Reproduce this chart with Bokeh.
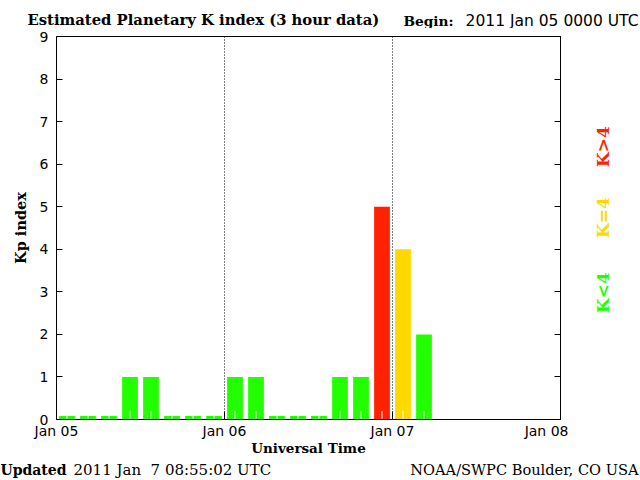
import math
import pandas as pd
from bokeh.plotting import figure
from bokeh.layouts import column, row
from bokeh.models import (Range1d, FixedTicker, LinearAxis, Span,
                          DatetimeTickFormatter, ColumnDataSource)
from bokeh.core.properties import value
from bokeh.embed import file_html
from bokeh.resources import INLINE

# ---------------- data ----------------
start_time = "2011-01-05 00:00"
interval_hours = 3
kp_values = [0, 0, 0, 1, 1, 0, 0, 0,
             1, 1, 0, 0, 0, 1, 1, 5,
             4, 2]
day_ticks = ["2011-01-05", "2011-01-06", "2011-01-07", "2011-01-08"]
y_ticks = [0, 1, 2, 3, 4, 5, 6, 7, 8, 9]
title_text = "Estimated Planetary K index (3 hour data)"
begin_label = "Begin:"
begin_value = "2011 Jan 05 0000 UTC"
updated_label = "Updated"
updated_value = "2011 Jan  7 08:55:02 UTC"
credit_text = "NOAA/SWPC Boulder, CO USA"
x_title = "Universal Time"
y_title = "Kp index"
legend_texts = ["K<4", "K=4", "K>4"]

GREEN, YELLOW, RED = "#22ff00", "#ffd800", "#ff2200"
SERIF = "DejaVu Serif"
SANS = "DejaVu Sans"

# ---------------- layout (canvas pixels) ----------------
W, H = 640, 480
TOP_H = 28                      # title strip height
FL, FR, FT, FB = 56, 560, 36, 419
MAIN_W = 568
PAD_TOP = FT - TOP_H
PAD_BOT = 41
MAIN_H = PAD_TOP + (FB - FT) + PAD_BOT
BOT_H = H - TOP_H - MAIN_H
LEG_W = W - MAIN_W


def text_fig(w, h, y0, y1, **kw):
    f = figure(width=w, height=h, output_backend="svg", toolbar_location=None,
               x_range=Range1d(0, w), y_range=Range1d(y1, y0),
               x_axis_location=None, y_axis_location=None, **kw)
    f.xgrid.visible = False
    f.ygrid.visible = False
    f.outline_line_color = None
    f.background_fill_color = "white"
    f.border_fill_color = "white"
    return f


def put(f, text, x, y, size, font=SERIF, bold=True, color="black",
        align="left", angle=0.0):
    f.text(x=[x], y=[y], text=[text.replace("  ", " \u00a0")],
           text_font=value(font),
           text_font_size=size, text_font_style="bold" if bold else "normal",
           text_color=color, text_align=align, text_baseline="middle",
           angle=angle)


def ms(ts):
    return pd.Timestamp(ts).value / 1e6


# ---------------- main chart ----------------
t0 = pd.Timestamp(start_time)
step = pd.Timedelta(hours=interval_hours)
starts = [t0 + i * step for i in range(len(kp_values))]
centers = [ms(s + step / 2) for s in starts]
bar_w = 2.25 * 3600 * 1000
tops = [v if v > 0 else 0.08 for v in kp_values]
colors = [GREEN if v < 4 else (YELLOW if v == 4 else RED) for v in kp_values]

src = ColumnDataSource(dict(x=centers, top=tops, color=colors,
                            y0=[0] * len(kp_values), y1=[0.2] * len(kp_values)))

p = figure(width=MAIN_W, height=MAIN_H, output_backend="svg",
           toolbar_location=None, x_axis_type="datetime",
           x_range=Range1d(ms(day_ticks[0]), ms(day_ticks[-1])),
           y_range=Range1d(0, 9),
           min_border_left=FL, min_border_right=MAIN_W - FR,
           min_border_top=PAD_TOP, min_border_bottom=PAD_BOT)
p.background_fill_color = "white"
p.border_fill_color = "white"
p.outline_line_color = "black"
p.outline_line_width = 1
p.outline_line_alpha = 1
p.xgrid.visible = False
p.ygrid.visible = False

p.vbar(x="x", width=bar_w, top="top", bottom=0, fill_color="color",
       line_color=None, source=src)
p.segment(x0="x", y0="y0", x1="x", y1="y1", line_color="white", line_width=1,
          source=src)

for d in day_ticks[1:-1]:
    p.add_layout(Span(location=ms(d), dimension="height", line_color="black",
                      line_dash="1 2", line_width=1))

xa = p.xaxis[0]
xa.ticker = FixedTicker(ticks=[ms(d) for d in day_ticks])
xa.formatter = DatetimeTickFormatter(days="%b %d", months="%b %d", hours="%b %d")
xa.major_tick_in = 8
xa.major_tick_out = 0
xa.minor_tick_line_color = None
xa.axis_line_color = "black"
xa.major_label_text_font = SANS
xa.major_label_text_font_size = "14px"
xa.major_label_text_color = "black"
xa.major_label_standoff = 3
xa.axis_label = x_title
xa.axis_label_text_font = SERIF
xa.axis_label_text_font_style = "bold"
xa.axis_label_text_font_size = "13.5px"
xa.axis_label_text_color = "black"
xa.axis_label_standoff = -2

ya = p.yaxis[0]
ya.ticker = FixedTicker(ticks=y_ticks)
ya.major_tick_in = 6
ya.major_tick_out = 0
ya.minor_tick_line_color = None
ya.major_label_text_font = SANS
ya.major_label_text_font_size = "14px"
ya.major_label_text_color = "black"
ya.major_label_standoff = 8
ya.axis_label = y_title
ya.axis_label_text_font = SERIF
ya.axis_label_text_font_style = "bold"
ya.axis_label_text_font_size = "14.5px"
ya.axis_label_text_color = "black"
ya.axis_label_standoff = 8

ra = LinearAxis(ticker=FixedTicker(ticks=y_ticks))
ra.major_tick_in = 6
ra.major_tick_out = 0
ra.minor_tick_line_color = None
ra.major_label_overrides = {t: "" for t in y_ticks}
ra.major_label_text_font_size = "0px"
ra.major_label_standoff = 0
ra.axis_line_color = "black"
p.add_layout(ra, "right")

# ---------------- title strip ----------------
top = text_fig(W, TOP_H, 0, TOP_H, min_border=0)
put(top, title_text, 27, 19, "14.8px")
put(top, begin_label, 403, 20, "13.7px")
put(top, begin_value, 638, 20, "15.5px", font=SANS, bold=False, align="right")

# ---------------- legend strip (right, frame aligned with chart frame) ------
leg = text_fig(LEG_W, MAIN_H, FT, FB, min_border_left=0, min_border_right=0,
               min_border_top=PAD_TOP, min_border_bottom=PAD_BOT)
for t, c, yc in zip(legend_texts, [GREEN, YELLOW, RED], [292, 217, 146]):
    put(leg, t, 602 - MAIN_W, yc, "17px", color=c, align="center",
        angle=math.pi / 2)

# ---------------- footer strip ----------------
bot_y0 = TOP_H + MAIN_H
bot = text_fig(W, BOT_H, bot_y0, H, min_border=0)
put(bot, updated_label, 0, 469, "14px")
put(bot, updated_value, 73, 469, "15px", bold=False)
put(bot, credit_text, 638, 469, "14.6px", align="right", bold=False)

layout = column(top, row(p, leg), bot)
open("out.html", "w").write(file_html(layout, INLINE))
